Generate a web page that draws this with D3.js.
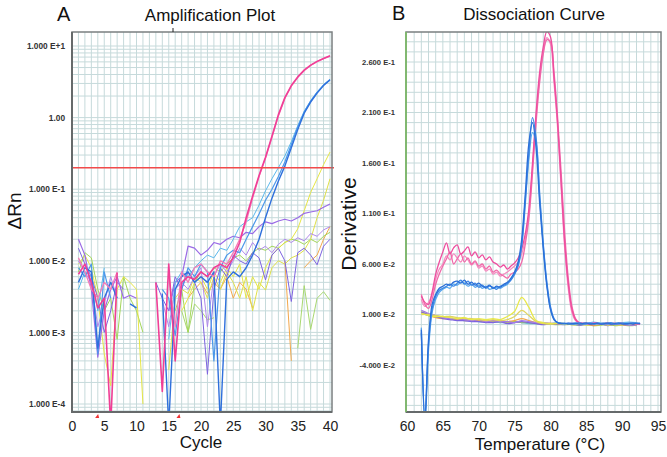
<!DOCTYPE html>
<html>
<head>
<meta charset="utf-8">
<script src="https://cdn.jsdelivr.net/npm/d3@7"></script>
<style>
  body { margin: 0; background: #fff; }
  svg { display: block; font-family: "Liberation Sans", Arial, sans-serif; }
</style>
</head>
<body>
<script>
// ---------- panel A : amplification plot (delta Rn per cycle, log scale) ----------
const cycles = d3.range(1, 41)
const xTicksA = [0, 5, 10, 15, 20, 25, 30, 35, 40]
const yTicksA = [10, 1, 0.1, 0.01, 0.001, 0.0001]
const yLabelsA = ["1.000 E+1", "1.00", "1.000 E-1", "1.000 E-2", "1.000 E-3", "1.000 E-4"]
const thresholdA = 0.2

const pinkA1 = [0.0065,0.009,0.005,0.0022,0.003,0.00005,0.0068,null,null,null,
  null,null,0.005,0.00015,0.009,0.0004,0.005,0.006,0.0055,0.007,
  0.006,0.008,0.009,0.008,0.011,0.018,0.04,0.08,0.155,0.28,
  0.55,1.1,1.9,2.8,3.7,4.6,5.4,6.1,6.7,7.3]
const pinkA2 = [0.011,0.007,0.004,0.003,0.005,0.004,0.007,null,null,null,
  null,null,null,null,0.006,0.0012,0.007,0.005,0.008,0.009,
  0.007,0.006,0.01,0.009,0.013,0.02,0.035,0.075,0.15,0.27,
  0.53,1.05,1.85,2.75,3.65,4.55,5.35,6.05,6.65,7.2]
const blueA1 = [0.005,0.008,0.007,0.0006,0.003,0.005,0.003,null,0.0025,0.0022,
  null,null,null,0.0035,0.00005,0.004,0.006,0.007,0.005,0.006,
  0.005,0.007,0.00005,0.0055,0.007,0.006,0.008,0.012,0.02,0.04,
  0.075,0.13,0.21,0.38,0.68,1.15,1.65,2.2,2.8,3.35]
const blueA2 = [0.008,0.006,0.009,0.0005,0.007,0.003,null,null,null,null,
  null,null,null,0.004,0.003,0.0009,0.004,0.008,0.006,0.009,
  0.007,0.0004,0.008,0.012,0.014,0.013,0.02,0.03,0.045,0.07,
  0.1,0.15,0.24,0.42,0.74,1.2,1.7,2.25,2.85,3.4]
const cyanA = [0.004,0.007,0.006,0.002,0.008,null,null,null,null,null,
  null,null,null,null,0.0008,0.005,0.007,0.006,0.008,0.01,
  0.012,0.011,0.015,0.014,0.02,0.03,0.035,0.04,0.06,0.095,
  0.14,0.2,0.29,0.46,0.77,1.22,1.72,2.28,2.88,3.42]
const yellowA1 = [0.009,0.012,0.008,0.003,0.0005,0.00018,0.004,0.006,0.005,0.004,
  0.0001,null,null,null,null,null,0.002,0.003,0.005,0.006,
  0.004,0.007,0.005,0.008,0.006,0.009,0.003,0.006,0.004,0.008,
  0.012,0.015,0.018,0.02,0.028,0.05,0.09,0.14,0.22,0.33]
const yellowA2 = [null,null,null,null,null,null,null,null,null,null,
  null,null,null,null,0.0003,0.003,0.004,0.0035,0.006,0.005,
  0.003,0.006,0.004,0.007,0.005,0.003,0.006,0.002,0.005,0.0039,
  0.008,0.01,0.009,0.011,0.012,0.014,0.02,0.04,0.07,0.14]
const greenA1 = [0.007,0.013,0.011,0.004,0.002,0.003,0.0008,0.006,0.003,0.002,
  0.001,null,null,null,null,0.002,0.004,0.001,0.005,0.007,
  0.006,0.008,0.007,0.009,0.011,0.012,0.01,0.013,0.015,0.014,
  0.016,0.015,0.018,0.02,0.019,0.017,0.02,0.018,0.022,0.025]
const greenA2 = [null,null,null,null,null,null,null,null,null,null,
  null,null,null,null,null,null,0.002,0.001,0.0025,0.002,
  0.0015,0.0016,null,null,null,null,null,null,null,null,
  null,null,null,null,0.0006,0.0045,0.0011,0.003,0.0037,0.0028]
const purpleA1 = [0.02,0.012,0.004,0.00045,0.002,0.004,0.006,0.003,0.0033,0.003,
  null,null,null,null,0.002,0.005,0.006,0.016,0.015,0.012,
  0.014,0.018,0.017,0.02,0.022,0.021,0.025,0.024,0.03,0.035,
  0.033,0.036,0.038,0.036,0.04,0.046,0.048,0.05,0.056,0.062]
const purpleA2 = [0.015,0.009,0.006,0.003,0.001,0.002,0.005,0.004,null,null,
  null,null,0.005,0.003,0.002,0.006,0.004,0.007,0.005,0.003,
  0.00026,0.004,0.008,0.006,0.012,0.01,0.009,0.013,0.011,0.0054,
  0.012,0.015,0.01,0.0027,0.013,0.015,0.012,0.0088,0.016,0.02]
const purpleA3 = [0.01,0.007,0.005,0.0012,0.0025,0.006,0.003,null,null,null,
  null,null,null,0.0028,0.0012,0.004,0.005,0.004,0.006,0.008,
  0.0012,0.006,0.009,0.007,0.01,0.015,0.012,0.018,0.014,0.016,
  0.013,0.017,0.02,0.018,0.021,0.019,0.024,0.022,0.027,0.03]
const orangeA = [null,null,null,null,null,null,null,null,null,null,
  null,null,null,null,null,null,null,0.003,0.004,0.005,
  0.0035,0.005,0.004,0.006,0.003,0.005,0.004,0.0022,null,null,
  null,null,0.01,0.0004,null,0.008,0.01,0.012,0.02,0.03]

// ---------- panel B : dissociation curve (derivative vs temperature) ----------
const meltT = d3.range(62, 92.51, 0.5)   // 62 points for the melting curves
const flatT = d3.range(62, 92.01, 1)     // 31 points for the flat curves
const xTicksB = [60, 65, 70, 75, 80, 85, 90, 95]
const yTicksB = [0.26, 0.21, 0.16, 0.11, 0.06, 0.01, -0.04]
const yLabelsB = ["2.600 E-1", "2.100 E-1", "1.600 E-1", "1.100 E-1", "6.000 E-2", "1.000 E-2", "-4.000 E-2"]

const pinkB1 = [0.028,0.022,0.02,0.032,0.05,0.062,0.072,0.081,0.07,0.076,
  0.079,0.07,0.073,0.077,0.068,0.072,0.066,0.069,0.064,0.067,
  0.062,0.06,0.057,0.059,0.055,0.058,0.061,0.066,0.075,0.09,
  0.115,0.16,0.21,0.25,0.275,0.29,0.285,0.245,0.2,0.14,
  0.08,0.04,0.015,0.005,0.002,0.001,0.0015,0.0005,0.001,0.0015,
  0.0005,0.001,0.0002,0.001,0.0015,0.0005,0.001,0.0,0.0012,0.0005,
  0.001,0.0005]
const pinkB2 = [0.03,0.02,0.016,0.025,0.04,0.05,0.058,0.065,0.072,0.06,
  0.065,0.07,0.062,0.066,0.06,0.063,0.058,0.06,0.055,0.058,
  0.052,0.054,0.05,0.048,0.046,0.05,0.052,0.055,0.062,0.08,
  0.105,0.15,0.2,0.24,0.268,0.282,0.28,0.25,0.205,0.15,
  0.09,0.045,0.018,0.006,0.002,0.0015,0.001,0.0005,0.0015,0.001,
  0.0005,0.001,0.0015,0.0005,0.001,0.0008,0.0015,0.0005,0.001,0.0012,
  0.0005,0.001]
const pinkB3 = [0.025,0.018,0.022,0.03,0.045,0.055,0.06,0.068,0.064,0.07,
  0.066,0.062,0.068,0.064,0.059,0.062,0.056,0.058,0.053,0.055,
  0.05,0.052,0.048,0.05,0.052,0.055,0.058,0.062,0.07,0.085,
  0.11,0.155,0.205,0.245,0.27,0.284,0.278,0.24,0.195,0.135,
  0.075,0.035,0.012,0.004,0.0015,0.001,0.0005,0.001,0.0012,0.0005,
  0.001,0.0015,0.0005,0.001,0.0002,0.001,0.0015,0.0005,0.001,0.0008,
  0.0012,0.0005]
const blueB1 = [-0.005,-0.095,-0.015,0.02,0.03,0.036,0.038,0.04,0.039,0.042,
  0.043,0.041,0.044,0.04,0.042,0.039,0.041,0.038,0.037,0.039,
  0.036,0.038,0.037,0.04,0.042,0.046,0.052,0.062,0.085,0.13,
  0.18,0.2,0.175,0.12,0.075,0.038,0.015,0.005,0.002,0.001,
  0.0015,0.0005,0.001,0.0012,0.0005,0.001,0.0018,0.0005,0.001,0.0012,
  0.0005,0.001,0.0015,0.0005,0.001,0.0018,0.0005,0.001,0.0012,0.0005,
  0.0015,0.001]
const blueB2 = [-0.008,-0.09,-0.02,0.015,0.028,0.034,0.036,0.038,0.04,0.038,
  0.041,0.044,0.04,0.043,0.039,0.041,0.037,0.039,0.036,0.038,
  0.037,0.035,0.038,0.039,0.041,0.044,0.05,0.058,0.078,0.12,
  0.17,0.205,0.185,0.13,0.08,0.042,0.018,0.006,0.002,0.0015,
  0.001,0.0015,0.0005,0.001,0.0018,0.0005,0.001,0.0012,0.0005,0.0015,
  0.001,0.0005,0.0012,0.0018,0.0005,0.001,0.0015,0.0005,0.001,0.0018,
  0.001,0.0015]
const blueB3 = [-0.003,-0.1,-0.025,0.012,0.025,0.032,0.035,0.037,0.036,0.04,
  0.039,0.042,0.041,0.038,0.04,0.037,0.039,0.036,0.038,0.035,
  0.036,0.037,0.036,0.038,0.04,0.045,0.05,0.06,0.08,0.125,
  0.165,0.19,0.18,0.125,0.078,0.04,0.016,0.005,0.002,0.001,
  0.0005,0.0012,0.001,0.0005,0.0015,0.001,0.0005,0.0018,0.001,0.0005,
  0.0012,0.0015,0.0005,0.001,0.0012,0.0005,0.0015,0.001,0.0005,0.0012,
  0.0015,0.001]
const yellowB1 = [0.011,0.009,0.008,0.008,0.007,0.006,0.007,0.005,0.006,0.005,
  0.006,0.005,0.008,0.013,0.027,0.017,0.004,0.002,0.001,0.0015,
  0.001,0.0005,0.001,0.0,0.0005,0.001,-0.0005,0.0005,0.0,0.0005,
  0.0]
const yellowB2 = [0.01,0.01,0.009,0.008,0.008,0.007,0.006,0.006,0.005,0.004,
  0.005,0.004,0.005,0.008,0.014,0.009,0.003,0.001,0.0005,0.001,
  0.0,0.0005,0.001,-0.0005,0.0005,0.0,0.001,0.0,-0.0005,0.0005,
  0.0]
const orangeB = [0.012,0.009,0.007,0.006,0.006,0.005,0.004,0.005,0.004,0.003,
  0.004,0.003,0.003,0.004,0.006,0.004,0.002,0.001,0.0015,0.0005,
  0.001,0.0,0.0005,0.001,-0.001,0.0005,0.0,0.001,-0.0005,0.0,
  0.0005]
const greenB = [0.013,0.01,0.008,0.007,0.006,0.005,0.005,0.004,0.004,0.003,
  0.003,0.003,0.002,0.003,0.002,0.002,0.001,0.001,0.0005,0.0,
  0.0005,0.0,-0.0005,0.0,-0.001,-0.0005,0.0,-0.001,-0.0005,-0.001,
  -0.0005]
const purpleB1 = [0.014,0.011,0.009,0.007,0.006,0.006,0.005,0.004,0.005,0.003,
  0.004,0.003,0.003,0.002,0.004,0.003,0.002,0.002,0.001,0.0015,
  0.001,0.0015,0.0005,0.001,0.002,0.0005,0.0015,0.0,0.001,-0.0005,
  0.0]
const purpleB2 = [0.012,0.01,0.008,0.006,0.005,0.004,0.004,0.003,0.003,0.002,
  0.002,0.003,0.001,0.002,0.003,0.002,0.001,0.0,0.001,0.0005,
  0.0,0.001,-0.0005,0.0005,0.0,0.001,-0.001,0.0005,-0.0005,0.0,
  -0.001]
const lightBlueB = [0.011,0.009,0.008,0.007,0.006,0.005,0.004,0.004,0.003,0.003,
  0.003,0.002,0.002,0.003,0.002,0.001,0.001,0.0015,0.001,0.002,
  0.001,0.0015,0.002,0.001,0.0025,0.0015,0.002,0.001,0.002,0.0025,
  0.002]

const seriesA = [
  { v: greenA2, c: "#a8d870", w: 1 },
  { v: orangeA, c: "#f2a84c", w: 1 },
  { v: greenA1, c: "#a3d65a", w: 1 },
  { v: yellowA2, c: "#dfe04a", w: 1 },
  { v: yellowA1, c: "#e6e646", w: 1 },
  { v: purpleA3, c: "#b088ec", w: 1 },
  { v: purpleA2, c: "#7d63e0", w: 1 },
  { v: purpleA1, c: "#9a6ae6", w: 1.2 },
  { v: cyanA, c: "#5ab8ec", w: 1 },
  { v: blueA2, c: "#4c98ea", w: 1.2 },
  { v: blueA1, c: "#2f70dc", w: 1.4 },
  { v: pinkA2, c: "#f57cb8", w: 1.3 },
  { v: pinkA1, c: "#f03f96", w: 1.6 }
]
const seriesB = [
  { t: flatT, v: lightBlueB, c: "#62b8ea" },
  { t: flatT, v: greenB, c: "#9ed45a" },
  { t: flatT, v: orangeB, c: "#f2a84c" },
  { t: flatT, v: purpleB2, c: "#7d63e0" },
  { t: flatT, v: purpleB1, c: "#a57ae8" },
  { t: flatT, v: yellowB2, c: "#e0d460" },
  { t: flatT, v: yellowB1, c: "#e8e84a" },
  { t: meltT, v: pinkB3, c: "#f58cc0" },
  { t: meltT, v: pinkB2, c: "#f06aaa" },
  { t: meltT, v: pinkB1, c: "#ee4d9e" },
  { t: meltT, v: blueB3, c: "#5aa8ee" },
  { t: meltT, v: blueB2, c: "#3b86e4" },
  { t: meltT, v: blueB1, c: "#2a6fd8" }
]

const width = 667
const height = 457
const gridColor = "#c6dadb"

let svg = d3.select("body")
  .append("svg")
  .attr("width", width)
  .attr("height", height)

// ----- panel A scales
const boxA = { left: 72, right: 332, top: 32, bottom: 412 }
let xA = d3.scaleLinear().domain([0, 40]).range([72, 330])
let yA = d3.scaleLog().domain([0.0001, 10]).range([404, 46])

let gA = svg.append("g")
gA.append("clipPath").attr("id", "clipA")
  .append("rect")
  .attr("x", boxA.left).attr("y", boxA.top)
  .attr("width", boxA.right - boxA.left).attr("height", boxA.bottom - boxA.top)

// vertical grid: one line per cycle
gA.append("g").selectAll("line")
  .data(d3.range(1, 41))
  .join("line")
  .attr("x1", d => xA(d)).attr("x2", d => xA(d))
  .attr("y1", boxA.top).attr("y2", boxA.bottom)
  .attr("stroke", gridColor).attr("stroke-width", 1)

// horizontal grid: log minor lines
let minorA = []
for (let e = -5; e <= 1; e++) {
  for (let m = 1; m <= 9; m++) minorA.push(m * Math.pow(10, e))
}
minorA = minorA.filter(v => yA(v) > boxA.top && yA(v) < boxA.bottom)
gA.append("g").selectAll("line")
  .data(minorA)
  .join("line")
  .attr("x1", boxA.left).attr("x2", boxA.right)
  .attr("y1", d => yA(d)).attr("y2", d => yA(d))
  .attr("stroke", gridColor).attr("stroke-width", 1)

let lineA = d3.line()
  .defined(d => d[1] != null)
  .x(d => xA(d[0]))
  .y(d => yA(Math.max(d[1], 0.00003)))

gA.append("g")
  .attr("clip-path", "url(#clipA)")
  .selectAll("path")
  .data(seriesA)
  .join("path")
  .attr("d", s => lineA(cycles.map((c, i) => [c, s.v[i]])))
  .attr("fill", "none")
  .attr("stroke", s => s.c)
  .attr("stroke-width", s => s.w)
  .attr("stroke-linejoin", "round")

// threshold
gA.append("line")
  .attr("x1", boxA.left).attr("x2", boxA.right + 2)
  .attr("y1", yA(thresholdA)).attr("y2", yA(thresholdA))
  .attr("stroke", "#f24a4a").attr("stroke-width", 1.5)

// frame
gA.append("rect")
  .attr("x", boxA.left).attr("y", boxA.top)
  .attr("width", boxA.right - boxA.left).attr("height", boxA.bottom - boxA.top)
  .attr("fill", "none").attr("stroke", "#7a7f80").attr("stroke-width", 1.5)
gA.append("line")
  .attr("x1", boxA.left).attr("x2", boxA.left)
  .attr("y1", boxA.top).attr("y2", boxA.bottom + 1)
  .attr("stroke", "#666a6b").attr("stroke-width", 2)
gA.append("line")
  .attr("x1", boxA.left).attr("x2", boxA.right)
  .attr("y1", boxA.bottom).attr("y2", boxA.bottom)
  .attr("stroke", "#666a6b").attr("stroke-width", 2)
gA.append("line")
  .attr("x1", 173).attr("x2", 173).attr("y1", 28).attr("y2", 32)
  .attr("stroke", "#222").attr("stroke-width", 1)

// red start/end markers
gA.append("g").selectAll("path")
  .data([3.9, 16.5])
  .join("path")
  .attr("d", d => `M${xA(d) - 2},${boxA.bottom + 6} L${xA(d) + 1},${boxA.bottom + 2} L${xA(d) + 2},${boxA.bottom + 6} Z`)
  .attr("fill", "#f03030")

// axes A
gA.append("g")
  .attr("transform", `translate(0, ${boxA.bottom})`)
  .call(d3.axisBottom(xA).tickValues(xTicksA).tickSize(0).tickPadding(9))
  .call(g => g.select(".domain").remove())
  .selectAll("text")
  .attr("font-size", 14).attr("fill", "#222").attr("font-family", "Liberation Sans, Arial, sans-serif")

gA.append("g")
  .attr("transform", `translate(${boxA.left}, 0)`)
  .call(d3.axisLeft(yA).tickValues(yTicksA).tickFormat((d, i) => yLabelsA[i]).tickSize(0).tickPadding(7))
  .call(g => g.select(".domain").remove())
  .selectAll("text")
  .attr("font-size", 8.3).attr("font-weight", "bold").attr("fill", "#333")
  .attr("font-family", "Liberation Sans, Arial, sans-serif")

gA.append("text").attr("x", 57).attr("y", 21).attr("font-size", 20).attr("fill", "#111").text("A")
gA.append("text").attr("x", 210).attr("y", 21).attr("text-anchor", "middle")
  .attr("font-size", 17).attr("fill", "#111").text("Amplification Plot")
gA.append("text").attr("x", 201).attr("y", 448).attr("text-anchor", "middle")
  .attr("font-size", 17).attr("fill", "#111").text("Cycle")
gA.append("text")
  .attr("transform", "translate(21, 211) rotate(-90)")
  .attr("text-anchor", "middle")
  .attr("font-size", 19).attr("fill", "#111").text("ΔRn")

// ----- panel B scales
const boxB = { left: 406, right: 661, top: 32, bottom: 412 }
let xB = d3.scaleLinear().domain([60, 95]).range([407, 658])
let yB = d3.scaleLinear().domain([-0.04, 0.26]).range([365, 62])

let gB = svg.append("g")
gB.append("clipPath").attr("id", "clipB")
  .append("rect")
  .attr("x", boxB.left).attr("y", boxB.top)
  .attr("width", boxB.right - boxB.left).attr("height", boxB.bottom - boxB.top)

gB.append("g").selectAll("line")
  .data(d3.range(61, 96))
  .join("line")
  .attr("x1", d => xB(d)).attr("x2", d => xB(d))
  .attr("y1", boxB.top).attr("y2", boxB.bottom)
  .attr("stroke", gridColor).attr("stroke-width", 1)

gB.append("g").selectAll("line")
  .data(d3.range(-8, 30).map(d => d / 100).filter(v => yB(v) > boxB.top && yB(v) < boxB.bottom))
  .join("line")
  .attr("x1", boxB.left).attr("x2", boxB.right)
  .attr("y1", d => yB(d)).attr("y2", d => yB(d))
  .attr("stroke", gridColor).attr("stroke-width", 1)

let lineB = d3.line()
  .x(d => xB(d[0]))
  .y(d => yB(d[1]))
  .curve(d3.curveCatmullRom)

gB.append("g")
  .attr("clip-path", "url(#clipB)")
  .selectAll("path")
  .data(seriesB)
  .join("path")
  .attr("d", s => lineB(s.t.map((t, i) => [t, s.v[i]])))
  .attr("fill", "none")
  .attr("stroke", s => s.c)
  .attr("stroke-width", 1.3)
  .attr("stroke-linejoin", "round")

gB.append("rect")
  .attr("x", boxB.left).attr("y", boxB.top)
  .attr("width", boxB.right - boxB.left).attr("height", boxB.bottom - boxB.top)
  .attr("fill", "none").attr("stroke", "#7a7f80").attr("stroke-width", 1.5)
gB.append("line")
  .attr("x1", boxB.left).attr("x2", boxB.right)
  .attr("y1", boxB.bottom).attr("y2", boxB.bottom)
  .attr("stroke", "#666a6b").attr("stroke-width", 2)
gB.append("line")
  .attr("x1", boxB.left).attr("x2", boxB.left)
  .attr("y1", boxB.top).attr("y2", boxB.bottom)
  .attr("stroke", "#78c060").attr("stroke-width", 1.5)

gB.append("g")
  .attr("transform", `translate(0, ${boxB.bottom})`)
  .call(d3.axisBottom(xB).tickValues(xTicksB).tickSize(0).tickPadding(9))
  .call(g => g.select(".domain").remove())
  .selectAll("text")
  .attr("font-size", 14).attr("fill", "#222").attr("font-family", "Liberation Sans, Arial, sans-serif")

gB.append("g")
  .attr("transform", `translate(${boxB.left}, 0)`)
  .call(d3.axisLeft(yB).tickValues(yTicksB).tickFormat((d, i) => yLabelsB[i]).tickSize(0).tickPadding(11))
  .call(g => g.select(".domain").remove())
  .selectAll("text")
  .attr("font-size", 7.6).attr("font-weight", "bold").attr("fill", "#333")
  .attr("font-family", "Liberation Sans, Arial, sans-serif")

gB.append("text").attr("x", 392).attr("y", 20).attr("font-size", 20).attr("fill", "#111").text("B")
gB.append("text").attr("x", 534).attr("y", 20).attr("text-anchor", "middle")
  .attr("font-size", 17).attr("fill", "#111").text("Dissociation Curve")
gB.append("text").attr("x", 540).attr("y", 450).attr("text-anchor", "middle")
  .attr("font-size", 17).attr("fill", "#111").text("Temperature (°C)")
gB.append("text")
  .attr("transform", "translate(356, 224) rotate(-90)")
  .attr("text-anchor", "middle")
  .attr("font-size", 21).attr("fill", "#111").text("Derivative")
</script>
</body>
</html>
